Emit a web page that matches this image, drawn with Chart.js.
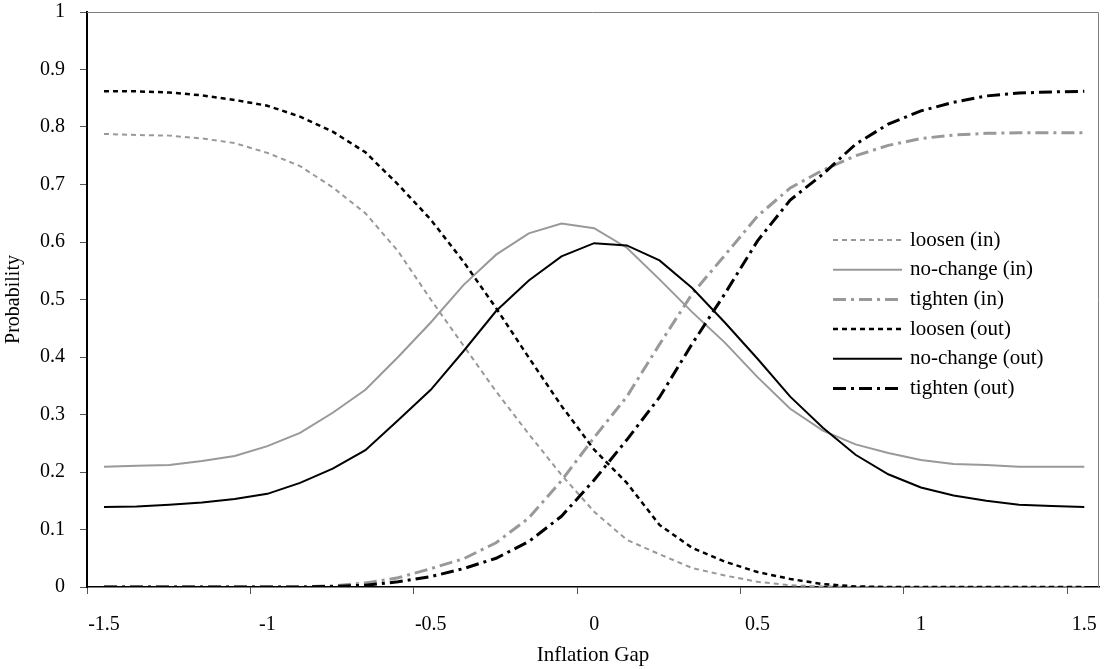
<!DOCTYPE html>
<html lang="en">
<head>
    <meta charset="UTF-8">
    <title>Probability vs Inflation Gap</title>
    <script src="https://cdn.jsdelivr.net/npm/chart.js"></script>
    <style>
        html, body { margin: 0; padding: 0; background: #fff; }
        #wrap { width: 1109px; height: 669px; }
    </style>
</head>
<body>
<div id="wrap"><canvas id="probChart" width="1109" height="669"></canvas></div>
<script>
    // inflation gap grid
    const xValues = [-1.5, -1.4, -1.3, -1.2, -1.1, -1.0, -0.9, -0.8, -0.7, -0.6, -0.5,
        -0.4, -0.3, -0.2, -0.1, 0, 0.1, 0.2, 0.3, 0.4, 0.5,
        0.6, 0.7, 0.8, 0.9, 1.0, 1.1, 1.2, 1.3, 1.4, 1.5];

    const loosenIn = [0.788, 0.786, 0.785, 0.780, 0.772, 0.755, 0.732, 0.695, 0.650, 0.584, 0.500,
        0.420, 0.340, 0.266, 0.195, 0.131, 0.082, 0.057, 0.033, 0.020, 0.009,
        0.003, 0.001, 0, 0, 0, 0, 0, 0, 0, 0];
    const noChangeIn = [0.209, 0.211, 0.212, 0.219, 0.228, 0.245, 0.268, 0.303, 0.343, 0.400, 0.460,
        0.525, 0.578, 0.615, 0.632, 0.624, 0.590, 0.535, 0.478, 0.425, 0.365,
        0.310, 0.272, 0.248, 0.233, 0.221, 0.214, 0.212, 0.209, 0.209, 0.209];
    const tightenIn = [0, 0, 0, 0, 0, 0, 0, 0.002, 0.007, 0.016, 0.032,
        0.049, 0.077, 0.120, 0.185, 0.260, 0.331, 0.422, 0.510, 0.577, 0.645,
        0.694, 0.725, 0.750, 0.768, 0.780, 0.786, 0.789, 0.790, 0.790, 0.790];
    const loosenOut = [0.862, 0.862, 0.860, 0.855, 0.847, 0.837, 0.818, 0.792, 0.756, 0.700, 0.639,
        0.566, 0.485, 0.399, 0.315, 0.239, 0.181, 0.108, 0.068, 0.044, 0.026,
        0.014, 0.005, 0.001, 0, 0, 0, 0, 0, 0, 0];
    const noChangeOut = [0.139, 0.140, 0.143, 0.147, 0.153, 0.162, 0.181, 0.206, 0.238, 0.290, 0.343,
        0.410, 0.480, 0.533, 0.575, 0.598, 0.594, 0.568, 0.520, 0.460, 0.397,
        0.331, 0.277, 0.230, 0.196, 0.173, 0.159, 0.150, 0.143, 0.141, 0.139];
    const tightenOut = [0, 0, 0, 0, 0, 0, 0, 0.001, 0.003, 0.009, 0.018,
        0.032, 0.050, 0.079, 0.123, 0.186, 0.256, 0.330, 0.423, 0.510, 0.602,
        0.673, 0.718, 0.770, 0.805, 0.828, 0.843, 0.854, 0.859, 0.861, 0.862];

    const seriesLabels = ['loosen (in)', 'no-change (in)', 'tighten (in)',
        'loosen (out)', 'no-change (out)', 'tighten (out)'];

    // x tick labels; the tick marks sit a little left of the labels, as in the original
    const xTickLabels = ['-1.5', '-1', '-0.5', '0', '0.5', '1', '1.5'];
    const xTickShift = 0.052;

    const GREY = '#999999';
    const FONT = '"Liberation Serif", "Times New Roman", serif';

    Chart.defaults.font.family = FONT;
    Chart.defaults.color = '#000';

    function pts(ys) {
        return xValues.map((x, i) => ({ x: x, y: ys[i] }));
    }

    // grey top/right frame of the plot area
    const framePlugin = {
        id: 'frame',
        beforeDatasetsDraw(chart) {
            const a = chart.chartArea;
            const c = chart.ctx;
            c.save();
            c.strokeStyle = '#808080';
            c.lineWidth = 1;
            c.beginPath();
            c.moveTo(a.left, a.top + 0.5);
            c.lineTo(a.right - 0.5, a.top + 0.5);
            c.lineTo(a.right - 0.5, a.bottom);
            c.stroke();
            c.restore();
        }
    };

    // legend drawn inside the plot area, right side
    const innerLegend = {
        id: 'innerLegend',
        afterDraw(chart, args, opts) {
            const c = chart.ctx;
            const a = chart.chartArea;
            const x0 = a.right - opts.fromRight;
            c.save();
            chart.data.datasets.forEach((ds, i) => {
                const y = a.top + opts.top + i * opts.rowHeight;
                c.strokeStyle = ds.borderColor;
                c.lineWidth = ds.borderWidth;
                c.setLineDash(ds.borderDash || []);
                c.beginPath();
                c.moveTo(x0, y);
                c.lineTo(x0 + opts.sampleWidth, y);
                c.stroke();
                c.setLineDash([]);
                c.fillStyle = '#000';
                c.font = opts.fontSize + 'px ' + FONT;
                c.textBaseline = 'middle';
                c.textAlign = 'left';
                c.fillText(ds.label, x0 + opts.sampleWidth + 8, y);
            });
            c.restore();
        }
    };

    const ctx = document.getElementById('probChart').getContext('2d');

    new Chart(ctx, {
        type: 'line',
        data: {
            datasets: [
                { label: seriesLabels[0], data: pts(loosenIn), borderColor: GREY, borderWidth: 2, borderDash: [5, 4], order: 2 },
                { label: seriesLabels[1], data: pts(noChangeIn), borderColor: GREY, borderWidth: 2, order: 2 },
                { label: seriesLabels[2], data: pts(tightenIn), borderColor: GREY, borderWidth: 3, borderDash: [13, 5, 3, 5], order: 2 },
                { label: seriesLabels[3], data: pts(loosenOut), borderColor: '#000', borderWidth: 2.5, borderDash: [5, 4], order: 1 },
                { label: seriesLabels[4], data: pts(noChangeOut), borderColor: '#000', borderWidth: 2, order: 1 },
                { label: seriesLabels[5], data: pts(tightenOut), borderColor: '#000', borderWidth: 3, borderDash: [13, 5, 3, 5], order: 1 }
            ]
        },
        options: {
            responsive: false,
            animation: false,
            elements: {
                point: { radius: 0 },
                line: { tension: 0, fill: false }
            },
            layout: { padding: { left: 0, right: 10, top: 12, bottom: 0 } },
            scales: {
                x: {
                    type: 'linear',
                    min: -1.552,
                    max: 1.545,
                    afterBuildTicks: (scale) => {
                        scale.ticks = xTickLabels.map(t => ({ value: parseFloat(t) - xTickShift }));
                    },
                    afterFit: (scale) => {
                        scale.height = 82;
                        scale.paddingLeft = 0;
                        scale.paddingRight = 0;
                    },
                    ticks: {
                        callback: (value, index) => xTickLabels[index],
                        labelOffset: 17,
                        padding: 19,
                        maxRotation: 0,
                        autoSkip: false,
                        font: { size: 20 },
                        color: '#000'
                    },
                    grid: { drawOnChartArea: false, drawTicks: true, tickLength: 7, color: '#555', lineWidth: 1 },
                    border: { color: '#000', width: 1.5 },
                    title: {
                        display: true,
                        text: 'Inflation Gap',
                        font: { size: 21 },
                        color: '#000',
                        padding: { top: 0, bottom: 1 }
                    }
                },
                y: {
                    min: 0,
                    max: 1,
                    afterFit: (scale) => {
                        scale.width = 87;
                        scale.paddingTop = 0;
                        scale.paddingBottom = 0;
                    },
                    ticks: {
                        stepSize: 0.1,
                        padding: 15,
                        font: { size: 20 },
                        color: '#000',
                        callback: (value) => String(Number(value.toFixed(1)))
                    },
                    grid: { drawOnChartArea: false, drawTicks: true, tickLength: 7, color: '#555', lineWidth: 1 },
                    border: { color: '#000', width: 2 },
                    title: {
                        display: true,
                        text: 'Probability',
                        font: { size: 20 },
                        color: '#000',
                        padding: { top: 2, bottom: 0 }
                    }
                }
            },
            plugins: {
                legend: { display: false },
                tooltip: { enabled: false },
                innerLegend: { fromRight: 266, top: 228, rowHeight: 29.7, sampleWidth: 69, fontSize: 21 }
            }
        },
        plugins: [framePlugin, innerLegend]
    });
</script>
</body>
</html>
